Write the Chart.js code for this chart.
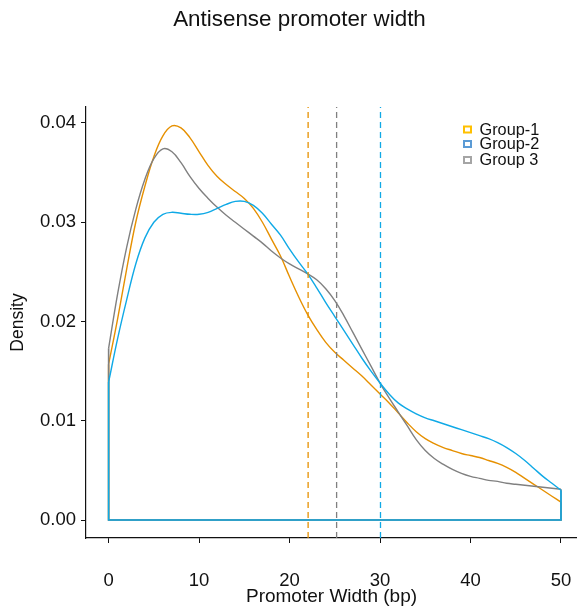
<!DOCTYPE html>
<html>
<head>
<meta charset="utf-8">
<script src="https://cdn.jsdelivr.net/npm/chart.js@4/dist/chart.umd.min.js"></script>
<style>
  html, body { margin: 0; padding: 0; background: #fff; }
  #wrap { position: relative; width: 577px; height: 609px; }
</style>
</head>
<body>
<div id="wrap"><canvas id="c" width="577" height="609"></canvas></div>
<script>
// ---- data ----
const chartTitle = "Antisense promoter width";
const xTitle = "Promoter Width (bp)";
const yTitle = "Density";
const groups = ["Group-1", "Group-2", "Group 3"];
const widthGrid = [0,1,2,3,4,5,6,7,8,9,10,11,12,13,14,15,16,17,18,19,20,21,22,23,24,25,26,27,28,29,30,31,32,33,34,35,36,37,38,39,40,41,42,43,44,45,46,47,48,49,50];
const group1Density = [0.0157,0.0203,0.0253,0.0300,0.0336,0.0366,0.0387,0.0397,0.0395,0.0385,0.0371,0.0357,0.0346,0.0338,0.0331,0.0324,0.0314,0.0300,0.0283,0.0266,0.0245,0.0225,0.0207,0.0192,0.0179,0.0169,0.0161,0.0153,0.0145,0.0136,0.0127,0.0118,0.0108,0.0098,0.0089,0.0082,0.0077,0.0073,0.0070,0.0067,0.0065,0.0063,0.0060,0.0057,0.0053,0.0048,0.0042,0.0036,0.0030,0.0024,0.0018];
const group2Density = [0.0139,0.0183,0.0222,0.0258,0.0284,0.0300,0.0308,0.0310,0.0309,0.0308,0.0308,0.0310,0.0314,0.0318,0.0321,0.0321,0.0317,0.0309,0.0298,0.0287,0.0273,0.0260,0.0248,0.0234,0.0219,0.0205,0.0191,0.0177,0.0163,0.0150,0.0138,0.0127,0.0118,0.0112,0.0107,0.0103,0.0100,0.0097,0.0094,0.0091,0.0088,0.0085,0.0082,0.0078,0.0073,0.0067,0.0060,0.0052,0.0044,0.0037,0.0030];
const group3Density = [0.0173,0.0228,0.0275,0.0313,0.0343,0.0364,0.0374,0.0371,0.0360,0.0346,0.0334,0.0324,0.0315,0.0307,0.0300,0.0293,0.0286,0.0279,0.0271,0.0264,0.0258,0.0253,0.0248,0.0242,0.0233,0.0221,0.0206,0.0189,0.0172,0.0155,0.0138,0.0123,0.0109,0.0095,0.0081,0.0070,0.0062,0.0056,0.0051,0.0047,0.0044,0.0042,0.0040,0.0039,0.0037,0.0036,0.0035,0.0034,0.0033,0.0032,0.0031];
const groupMeans = [22.05, 30.05, 25.2];
const xTickValues = [0, 10, 20, 30, 40, 50];
const yTickValues = [0, 0.01, 0.02, 0.03, 0.04];

// ---- styles ----
const lineColors = ["#E69000", "#0FA9E6", "#808080"];
const legendColors = ["#FFC000", "#5B9BD5", "#A5A5A5"];
const drawOrder = [2, 0, 1];
const X_MIN = -2.5, X_MAX = 51.77;
const Y_MIN = -0.00181, Y_MAX = 0.04161;
const FONT = "'Liberation Sans', Arial, Helvetica, sans-serif";

Chart.defaults.font.family = FONT;
Chart.defaults.color = "#111";

const series = [group1Density, group2Density, group3Density];
const datasets = [];
series.forEach((vals, g) => {
  // smooth density curve
  datasets.push({
    label: groups[g],
    data: widthGrid.map((x, i) => ({ x: x, y: vals[i] })),
    borderColor: lineColors[g],
    borderWidth: 1.4,
    pointRadius: 0,
    fill: false,
    tension: 0.4,
    order: drawOrder[g] + 1
  });
  // closing edges of the density polygon (left side, baseline, right side)
  const n = widthGrid.length - 1;
  datasets.push({
    label: groups[g] + " edge",
    data: [
      { x: widthGrid[0], y: vals[0] },
      { x: widthGrid[0], y: 0 },
      { x: widthGrid[n], y: 0 },
      { x: widthGrid[n], y: vals[n] }
    ],
    borderColor: lineColors[g],
    borderWidth: 1.6,
    pointRadius: 0,
    fill: false,
    tension: 0,
    order: drawOrder[g] + 1
  });
});
// dashed mean lines
groupMeans.forEach((m, g) => {
  datasets.push({
    label: groups[g] + " mean",
    data: [{ x: m, y: Y_MIN }, { x: m, y: Y_MAX }],
    borderColor: lineColors[g],
    borderWidth: 1.3,
    borderDash: [6, 4],
    pointRadius: 0,
    fill: false,
    tension: 0,
    order: 0
  });
});

const overlay = {
  id: "overlay",
  afterDraw(chart) {
    const ctx = chart.ctx;
    ctx.save();
    // main title
    ctx.fillStyle = "#111";
    ctx.font = "22.4px " + FONT;
    ctx.textAlign = "center";
    ctx.textBaseline = "middle";
    ctx.fillText(chartTitle, 299.5, 20);
    // legend
    const rowsY = [130, 144.5, 160.5];
    ctx.font = "16.3px " + FONT;
    ctx.textAlign = "left";
    groups.forEach((name, g) => {
      ctx.strokeStyle = legendColors[g];
      ctx.lineWidth = 2;
      ctx.strokeRect(464, rowsY[g] - 3.5, 7, 6);
      ctx.fillStyle = "#111";
      ctx.fillText(name, 479.5, rowsY[g] + 0.5);
    });
    ctx.restore();
  }
};

new Chart(document.getElementById("c"), {
  type: "line",
  data: { datasets: datasets },
  plugins: [overlay],
  options: {
    responsive: false,
    animation: false,
    events: [],
    layout: { padding: { top: 107, left: 0, right: 0, bottom: 0 } },
    plugins: { legend: { display: false }, tooltip: { enabled: false }, title: { display: false } },
    scales: {
      x: {
        type: "linear",
        min: X_MIN, max: X_MAX,
        afterBuildTicks: (s) => { s.ticks = xTickValues.map(v => ({ value: v })); },
        afterFit: (s) => { s.height = 71; s.paddingLeft = 0; s.paddingRight = 0; },
        grid: { drawOnChartArea: false, drawTicks: true, tickLength: 5, color: "#111", lineWidth: 1 },
        border: { display: true, color: "#111", width: 1.2 },
        ticks: { font: { size: 18.5 }, color: "#111", padding: 27, maxRotation: 0, callback: (v) => String(v) },
        title: { display: true, text: xTitle, font: { size: 19 }, color: "#111", padding: { top: 1, bottom: 1 } }
      },
      y: {
        type: "linear",
        min: Y_MIN, max: Y_MAX,
        afterBuildTicks: (s) => { s.ticks = yTickValues.map(v => ({ value: v })); },
        afterFit: (s) => { s.width = 86; s.paddingTop = 0; s.paddingBottom = 0; },
        grid: { drawOnChartArea: false, drawTicks: true, tickLength: 5, color: "#111", lineWidth: 1 },
        border: { display: true, color: "#111", width: 1.2 },
        ticks: { font: { size: 18.5 }, color: "#111", padding: 5, callback: (v) => v.toFixed(2) },
        title: { display: true, text: yTitle, font: { size: 17.5 }, color: "#111", padding: { top: 8, bottom: 8 } }
      }
    }
  }
});
</script>
</body>
</html>
